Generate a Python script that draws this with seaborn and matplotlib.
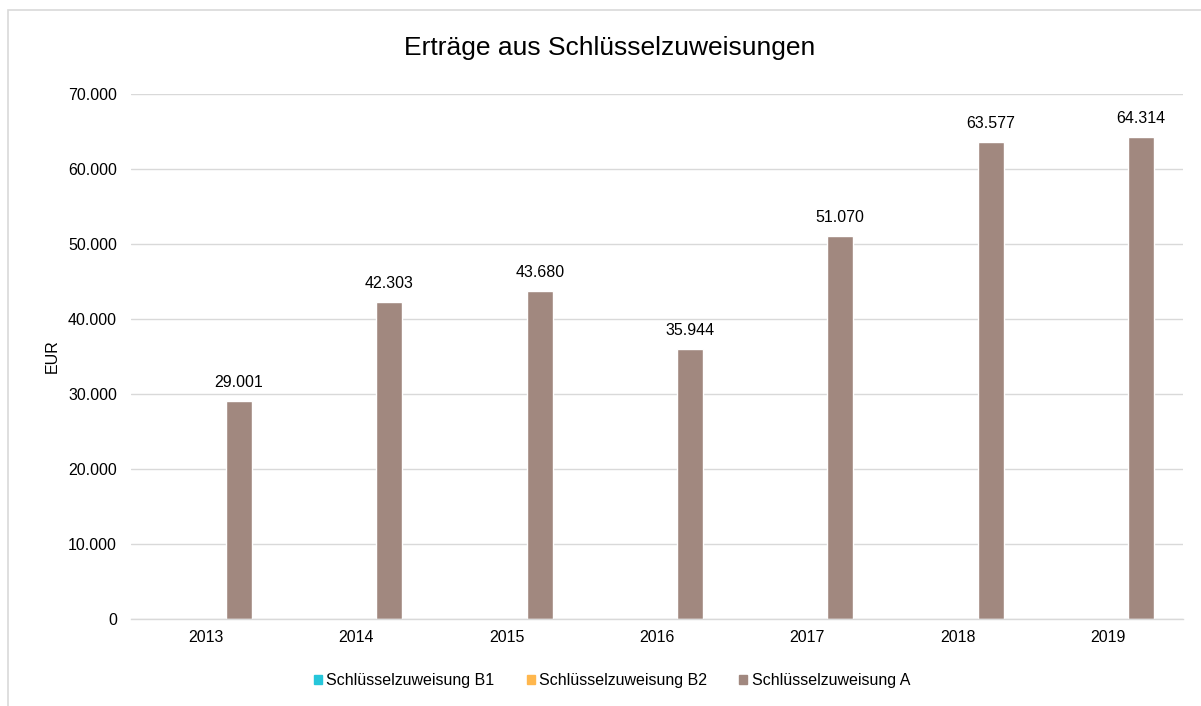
import pandas as pd
import matplotlib.pyplot as plt
import matplotlib.patches as mpatches
import seaborn as sns

# data
years = ['2013', '2014', '2015', '2016', '2017', '2018', '2019']
series = ['Schlüsselzuweisung B1', 'Schlüsselzuweisung B2', 'Schlüsselzuweisung A']
b1_values = [0, 0, 0, 0, 0, 0, 0]
b2_values = [0, 0, 0, 0, 0, 0, 0]
a_values = [29001, 42303, 43680, 35944, 51070, 63577, 64314]
colors = ['#26C6DA', '#FFB74D', '#A1887F']

df = pd.DataFrame({
    'year': years * 3,
    'series': [series[0]] * 7 + [series[1]] * 7 + [series[2]] * 7,
    'value': b1_values + b2_values + a_values,
})

sns.set_style('white')
plt.rcParams['font.family'] = ['Liberation Sans', 'DejaVu Sans']
plt.rcParams['text.color'] = '#000000'
plt.rcParams['axes.labelcolor'] = '#000000'
fs = 11.5

fig = plt.figure(figsize=(12.01, 7.06), dpi=100)
ax = fig.add_axes([0.109, 0.1232, 0.876, 0.7437])

sns.barplot(data=df, x='year', y='value', hue='series', hue_order=series,
            palette=dict(zip(series, colors)), width=0.66, gap=0.21,
            saturation=1, ax=ax, legend=True)

ax.set_ylim(0, 70000)
ax.set_yticks(range(0, 70001, 10000))
ax.set_yticklabels([f'{v:,.0f}'.replace(',', '.') for v in range(0, 70001, 10000)])
ax.grid(axis='y', color='#D9D9D9', linewidth=1)
ax.set_axisbelow(True)
for s in ['top', 'right', 'left']:
    ax.spines[s].set_visible(False)
ax.spines['bottom'].set_color('#D9D9D9')
ax.spines['bottom'].set_linewidth(1)
ax.tick_params(axis='y', length=0, labelsize=fs, colors='#000000', pad=10)
ax.tick_params(axis='x', length=0, labelsize=fs, colors='#000000', pad=8)
ax.set_xlabel('')
ax.set_ylabel('EUR', fontsize=fs, labelpad=6, color='#000000')

# value labels on series A only
ax.bar_label(ax.containers[2],
             labels=[f'{v:,.0f}'.replace(',', '.') for v in a_values],
             padding=8, fontsize=fs, color='#000000')

fig.suptitle('Erträge aus Schlüsselzuweisungen', fontsize=19, x=0.508, y=0.949,
             color='#000000')

# legend with small squares
ax.get_legend().remove()
handles = [mpatches.Patch(color=c, label=s) for c, s in zip(colors, series)]
leg = fig.legend(handles=handles, loc='center', bbox_to_anchor=(0.5096, 0.036),
                 ncol=3, frameon=False, fontsize=fs, handlelength=0.5,
                 handleheight=0.5, handletextpad=0.3, columnspacing=2.0)
for t in leg.get_texts():
    t.set_color('#000000')

# chart border (cropped on right and bottom)
fig.patches.append(mpatches.Rectangle((8 / 1201, -0.2), 1.5, 1.2 - 10 / 706,
                                      transform=fig.transFigure, fill=False,
                                      edgecolor='#D9D9D9', linewidth=1.2))

fig.savefig('out.png', dpi=100)
